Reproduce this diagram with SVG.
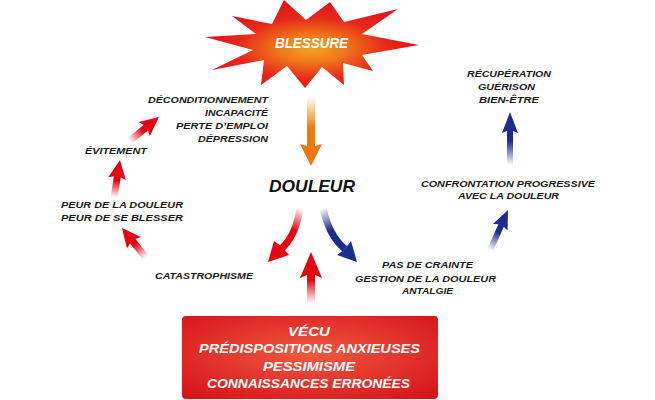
<svg xmlns="http://www.w3.org/2000/svg" width="655" height="400" viewBox="0 0 655 400">
<defs>
<style>
.t{font-family:"Liberation Sans",Arial,sans-serif;font-style:italic;font-weight:bold;font-size:9px;fill:#1a1a1a}
.w{font-family:"Liberation Sans",Arial,sans-serif;font-style:italic;font-weight:bold;font-size:12px;fill:#fff}
</style>
<radialGradient id="gStar" cx="0.5" cy="0.55" r="0.5">
<stop offset="0" stop-color="#f7a51f"/>
<stop offset="0.3" stop-color="#f07a1a"/>
<stop offset="0.7" stop-color="#e6281b"/>
<stop offset="1" stop-color="#e3141b"/>
</radialGradient>
<radialGradient id="gBox" cx="0.5" cy="0.45" r="0.7">
<stop offset="0" stop-color="#ee5a3e"/>
<stop offset="1" stop-color="#d8121c"/>
</radialGradient>
<linearGradient id="gRed" x1="0" y1="1" x2="0" y2="0">
<stop offset="0" stop-color="#e30613" stop-opacity="0"/>
<stop offset="0.45" stop-color="#e30613"/>
<stop offset="1" stop-color="#e30613"/>
</linearGradient>
<linearGradient id="gBlue" x1="0" y1="1" x2="0" y2="0">
<stop offset="0" stop-color="#1d2b8c" stop-opacity="0"/>
<stop offset="0.45" stop-color="#1d2b8c"/>
<stop offset="1" stop-color="#1d2b8c"/>
</linearGradient>
<linearGradient id="gOrange" x1="0" y1="1" x2="0" y2="0">
<stop offset="0" stop-color="#f39200" stop-opacity="0"/>
<stop offset="0.45" stop-color="#f07d10"/>
<stop offset="1" stop-color="#ee7410"/>
</linearGradient>
<linearGradient id="gCurR" gradientUnits="userSpaceOnUse" x1="300" y1="208" x2="281" y2="249">
<stop offset="0" stop-color="#e30613" stop-opacity="0"/>
<stop offset="0.5" stop-color="#e30613"/>
<stop offset="1" stop-color="#e30613"/>
</linearGradient>
<linearGradient id="gCurB" gradientUnits="userSpaceOnUse" x1="323" y1="208" x2="345" y2="249">
<stop offset="0" stop-color="#1d2b8c" stop-opacity="0"/>
<stop offset="0.5" stop-color="#1d2b8c"/>
<stop offset="1" stop-color="#1d2b8c"/>
</linearGradient>
<path id="aBig" d="M0,0 L11,22 L4,20 L4,70 L-4,70 L-4,20 L-11,22 Z"/>
<path id="aUp" d="M0,0 L11,26 L4,23 L4,51 L-4,51 L-4,23 L-11,26 Z"/>
<path id="aMid" d="M0,0 L9,19 L3.5,17 L3.5,38 L-3.5,38 L-3.5,17 L-9,19 Z"/>
<path id="aBlue" d="M0,0 L8,21 L3,19 L3,53 L-3,53 L-3,19 L-8,21 Z"/>
<path id="aBlue2" d="M0,0 L8,19 L3,17 L3,44 L-3,44 L-3,17 L-8,19 Z"/>
</defs>
<rect width="655" height="400" fill="#fff"/>

<g id="blessure">
<polygon fill="url(#gStar)" points="232,16 272,24 284,0 306,20 330,2 344,22 398,9 362,34 419,45 362,55 373,71 343,63 344,85 322,67 305,88 287,66 261,85 264,60 212,70 253,50 205,37 256,34"/>
<text x="275" y="48" style="font-family:'Liberation Sans',Arial,sans-serif;font-style:italic;font-weight:bold;font-size:14px;fill:#fff" textLength="73" lengthAdjust="spacingAndGlyphs">BLESSURE</text>
</g>

<g id="douleur">
<text x="269" y="192" style="font-family:'Liberation Sans',Arial,sans-serif;font-style:italic;font-weight:bold;font-size:17px;fill:#111" textLength="86" lengthAdjust="spacingAndGlyphs">DOULEUR</text>
</g>

<g id="deconditionnement">
<text class="t" x="148" y="103" textLength="120" lengthAdjust="spacingAndGlyphs">DÉCONDITIONNEMENT</text>
<text class="t" x="205" y="116" textLength="63" lengthAdjust="spacingAndGlyphs">INCAPACITÉ</text>
<text class="t" x="176" y="129" textLength="92" lengthAdjust="spacingAndGlyphs">PERTE D’EMPLOI</text>
<text class="t" x="198" y="142" textLength="70" lengthAdjust="spacingAndGlyphs">DÉPRESSION</text>
</g>
<g id="evitement">
<text class="t" x="85" y="154" textLength="62" lengthAdjust="spacingAndGlyphs">ÉVITEMENT</text>
</g>
<g id="peur">
<text class="t" x="61" y="208" textLength="122" lengthAdjust="spacingAndGlyphs">PEUR DE LA DOULEUR</text>
<text class="t" x="61" y="221" textLength="122" lengthAdjust="spacingAndGlyphs">PEUR DE SE BLESSER</text>
</g>
<g id="catastrophisme">
<text class="t" x="155" y="279" textLength="98" lengthAdjust="spacingAndGlyphs">CATASTROPHISME</text>
</g>
<g id="recuperation">
<text class="t" x="467" y="77" textLength="84" lengthAdjust="spacingAndGlyphs">RÉCUPÉRATION</text>
<text class="t" x="478" y="90" textLength="57" lengthAdjust="spacingAndGlyphs">GUÉRISON</text>
<text class="t" x="479" y="103" textLength="60" lengthAdjust="spacingAndGlyphs">BIEN-ÊTRE</text>
</g>
<g id="confrontation">
<text class="t" x="421" y="187" textLength="174" lengthAdjust="spacingAndGlyphs">CONFRONTATION PROGRESSIVE</text>
<text class="t" x="458" y="199" textLength="101" lengthAdjust="spacingAndGlyphs">AVEC LA DOULEUR</text>
</g>
<g id="pasdecrainte">
<text class="t" x="382" y="268" textLength="91" lengthAdjust="spacingAndGlyphs">PAS DE CRAINTE</text>
<text class="t" x="355" y="282" textLength="141" lengthAdjust="spacingAndGlyphs">GESTION DE LA DOULEUR</text>
<text class="t" x="402" y="294" textLength="51" lengthAdjust="spacingAndGlyphs">ANTALGIE</text>
</g>
<g id="vecu">
<rect x="182" y="316" width="256" height="83" rx="4" fill="url(#gBox)"/>
<text class="w" x="288" y="336" textLength="42" lengthAdjust="spacingAndGlyphs">VÉCU</text>
<text class="w" x="199" y="353" textLength="221" lengthAdjust="spacingAndGlyphs">PRÉDISPOSITIONS ANXIEUSES</text>
<text class="w" x="263" y="371" textLength="92" lengthAdjust="spacingAndGlyphs">PESSIMISME</text>
<text class="w" x="207" y="388" textLength="203" lengthAdjust="spacingAndGlyphs">CONNAISSANCES ERRONÉES</text>
</g>

<g id="connectors">
<use href="#aBig" fill="url(#gOrange)" transform="translate(311,166) rotate(180)"/>
<use href="#aUp" fill="url(#gRed)" transform="translate(311,252)"/>
<use href="#aMid" fill="url(#gRed)" transform="translate(122,228) rotate(-39)"/>
<use href="#aMid" fill="url(#gRed)" transform="translate(120,160) rotate(9)"/>
<use href="#aMid" fill="url(#gRed)" transform="translate(159,117) rotate(51)"/>
<use href="#aBlue" fill="url(#gBlue)" transform="translate(510,112)"/>
<use href="#aBlue2" fill="url(#gBlue)" transform="translate(508,210) rotate(24)"/>
<path d="M300,208 Q296,236 281,249" fill="none" stroke="url(#gCurR)" stroke-width="7"/>
<polygon fill="#e30613" points="268,262 274,241 281,246 289,255"/>
<path d="M323,208 Q329,236 345,249" fill="none" stroke="url(#gCurB)" stroke-width="7"/>
<polygon fill="#1d2b8c" points="357,262 337,255 345,249 351,241"/>
</g>
</svg>
